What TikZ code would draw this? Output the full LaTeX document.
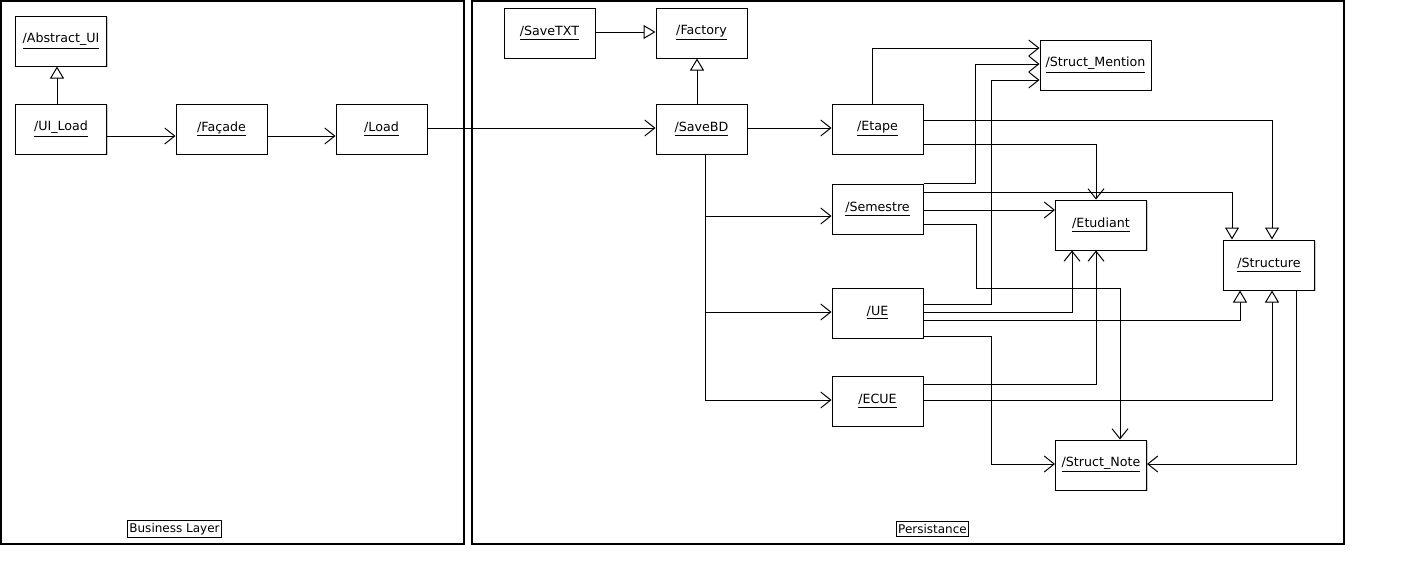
\documentclass[tikz,border=0pt]{standalone}
\usepackage{fontspec}
\setmainfont{DejaVu Sans}
\usetikzlibrary{arrows.meta,calc,shadows}
\begin{document}
\begin{tikzpicture}[x=0.75pt,y=-0.75pt,
  line width=0.75pt,
  cls/.style={draw, fill=white, minimum width=68.25pt, minimum height=37.5pt,
    inner sep=0pt, font=\fontsize{9.5}{11}\selectfont,
    drop shadow={shadow xshift=1pt, shadow yshift=-1pt, fill=black!40, opacity=0.5}},
  layer/.style={draw, line width=0.9pt},
  tag/.style={draw, line width=0.75pt, inner xsep=1.5pt, inner ysep=2pt,
    font=\fontsize{9}{10}\selectfont},
  assoc/.style={-{Straight Barb[length=7.5pt,width=12pt]}},
  gen/.style={-{Triangle[open,fill=white,length=9pt,width=10.5pt]}}]
\useasboundingbox (0,0) rectangle (1401,582);

% layer frames
\draw[layer] (1,1) rectangle (464,544);
\draw[layer] (472,1) rectangle (1344,544);
\node[tag] (bl) at (174.5,529) {Business Layer};
\node[tag] (ps) at (932.5,529) {Persistance};

% business layer classes
\node[cls] (abs)    at (61,41)    {\underline{/Abstract\_UI}};
\node[cls] (uiload) at (61,129)   {\underline{/UI\_Load}};
\node[cls] (facade) at (221.5,129){\underline{/Façade}};
\node[cls] (load)   at (381.5,129){\underline{/Load}};

% persistence classes
\node[cls] (savetxt)   at (549.5,33)  {\underline{/SaveTXT}};
\node[cls] (factory)   at (701.5,33)  {\underline{/Factory}};
\node[cls] (savebd)    at (701.5,129) {\underline{/SaveBD}};
\node[cls] (etape)     at (877.5,129) {\underline{/Etape}};
\node[cls] (semestre)  at (877.5,209) {\underline{/Semestre}};
\node[cls] (ue)        at (877.5,313) {\underline{/UE}};
\node[cls] (ecue)      at (877.5,401) {\underline{/ECUE}};
\node[cls, minimum width=83.25pt] (mention) at (1095.5,65) {\underline{/Struct\_Mention}};
\node[cls] (etudiant)  at (1101,225)  {\underline{/Etudiant}};
\node[cls] (structure) at (1269,265)  {\underline{/Structure}};
\node[cls] (note)      at (1101,465)  {\underline{/Struct\_Note}};

% business layer links
\draw[gen] ($(uiload.north)+(-4,0)$) -- ($(abs.south)+(-4,0)$);
\draw[assoc] ($(uiload.east)+(0,7)$) -- ($(facade.west)+(0,7)$);
\draw[assoc] ($(facade.east)+(0,7)$) -- ($(load.west)+(0,7)$);
\draw[assoc] ($(load.east)+(0,-1)$) -- ($(savebd.west)+(0,-1)$);

% factory hierarchy
\draw[gen] ($(savetxt.east)+(0,-1)$) -- ($(factory.west)+(0,-1)$);
\draw[gen] ($(savebd.north)+(-4.5,0)$) -- ($(factory.south)+(-4.5,0)$);

% SaveBD to the structures
\draw[assoc] ($(savebd.east)+(0,-1)$) -- ($(etape.west)+(0,-1)$);
\draw[assoc] ($(savebd.south)+(3.5,0)$) |- ($(semestre.west)+(0,7)$);
\draw[assoc] ($(savebd.south)+(3.5,0)$) |- ($(ue.west)+(0,-1)$);
\draw[assoc] ($(savebd.south)+(3.5,0)$) |- ($(ecue.west)+(0,-1)$);

% Etape
\draw[assoc] ($(etape.north)+(-5.5,0)$) |- ($(mention.west)+(0,-17)$);
\draw[gen]   ($(etape.east)+(0,-9)$) -| ($(structure.north)+(3,0)$);
\draw[assoc] ($(etape.east)+(0,15)$) -| ($(etudiant.north)+(-5,0)$);

% Semestre
\draw[assoc] (semestre.north east) -| ($(mention.west)+(-64,-1)$) -- ($(mention.west)+(0,-1)$);
\draw[gen]   ($(semestre.east)+(0,-17)$) -| ($(structure.north)+(-37,0)$);
\draw[assoc] ($(semestre.east |- etudiant.west)+(0,-15)$) -- ($(etudiant.west)+(0,-15)$);
\draw[assoc] ($(semestre.east)+(0,15)$) -| (976,288) -| ($(note.north)+(19,0)$);

% UE
\draw[assoc] ($(ue.east)+(0,-9)$) -| ($(mention.west)+(-48,15)$) -- ($(mention.west)+(0,15)$);
\draw[assoc] ($(ue.east)+(0,-1)$) -| ($(etudiant.south)+(-29,0)$);
\draw[gen]   ($(ue.east)+(0,7)$) -| ($(structure.south)+(-29,0)$);
\draw[assoc] ($(ue.east)+(0,23)$) -| ($(note.west)+(-64,-1)$) -- ($(note.west)+(0,-1)$);

% ECUE
\draw[assoc] ($(ecue.east)+(0,-17)$) -| ($(etudiant.south)+(-5,0)$);
\draw[gen]   ($(ecue.east)+(0,-1)$) -| ($(structure.south)+(3,0)$);

% Structure
\draw[assoc] ($(structure.south)+(27,0)$) |- ($(note.east)+(0,-1)$);
\end{tikzpicture}
\end{document}
